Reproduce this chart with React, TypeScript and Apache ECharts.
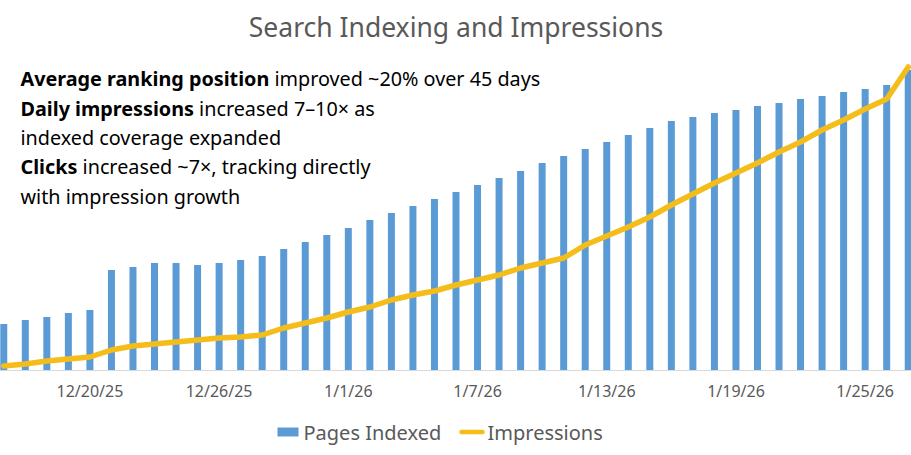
import { useEffect, useRef } from 'react';
import * as echarts from 'echarts';

const FONT = '"Noto Sans", "Open Sans", sans-serif';

// one category per day, 12/16/25 .. 1/27/26
const dates = [
  '12/16/25', '12/17/25', '12/18/25', '12/19/25', '12/20/25', '12/21/25', '12/22/25',
  '12/23/25', '12/24/25', '12/25/25', '12/26/25', '12/27/25', '12/28/25', '12/29/25',
  '12/30/25', '12/31/25', '1/1/26', '1/2/26', '1/3/26', '1/4/26', '1/5/26',
  '1/6/26', '1/7/26', '1/8/26', '1/9/26', '1/10/26', '1/11/26', '1/12/26',
  '1/13/26', '1/14/26', '1/15/26', '1/16/26', '1/17/26', '1/18/26', '1/19/26',
  '1/20/26', '1/21/26', '1/22/26', '1/23/26', '1/24/26', '1/25/26', '1/26/26',
  '1/27/26',
];

const pagesIndexed = [
  46, 50, 53, 57, 60, 100, 103, 107, 107, 105, 107, 110, 114, 121,
  128, 135, 142, 150, 157, 164, 171, 178, 185, 192, 199, 207, 214, 221,
  228, 235, 242, 249, 253, 257, 260, 264, 267, 271, 274, 278, 281, 285,
  300,
];

const impressions = [
  40, 60, 90, 110, 130, 200, 240, 260, 280, 300, 320, 330, 350, 420,
  470, 520, 580, 630, 700, 750, 790, 850, 900, 950, 1020, 1070, 1120, 1250,
  1340, 1430, 1530, 1650, 1760, 1870, 1970, 2070, 2180, 2280, 2400, 2500, 2610, 2710,
  3030,
];

const notes = [
  '{b|Average ranking position}{n| improved ~20% over 45 days}',
  '{b|Daily impressions}{n| increased 7–10× as}',
  '{n|indexed coverage expanded}',
  '{b|Clicks}{n| increased ~7×, tracking directly}',
  '{n|with impression growth}',
];

// the plot area is a little wider than the picture: half a day is cut off on each side
const SHIFT = 7.5;

export default function App() {
  const chartRef = useRef<HTMLDivElement>(null);

  useEffect(() => {
    if (!chartRef.current) return;
    document.body.style.margin = '0';
    const chart = echarts.init(chartRef.current, null, { renderer: 'svg' });

    const option: echarts.EChartsOption = {
      animation: false,
      title: {
        text: 'Search Indexing and Impressions',
        left: 'center',
        top: 8,
        textStyle: { fontFamily: FONT, fontSize: 26.5, fontWeight: 'normal', color: '#595959' },
      },
      legend: {
        bottom: 8,
        left: 272 + SHIFT,
        itemWidth: 21,
        itemHeight: 9,
        itemGap: 18,
        textStyle: { fontFamily: FONT, fontSize: 20, color: '#595959' },
        data: [
          { name: 'Pages Indexed', icon: 'rect' },
          {
            name: 'Impressions',
            itemStyle: { color: 'transparent', borderWidth: 0 },
            lineStyle: { width: 4.5, color: '#f5bd1a' },
          },
        ],
      },
      grid: { left: 0, right: 0, top: 50, bottom: 85 },
      xAxis: {
        type: 'category',
        data: dates,
        axisLine: { lineStyle: { color: '#d9d9d9', width: 1 } },
        axisTick: { interval: 0, length: 5, lineStyle: { color: '#d9d9d9' } },
        axisLabel: {
          interval: (index: number) => (index - 4) % 6 === 0,
          color: '#595959',
          fontFamily: FONT,
          fontSize: 16,
          margin: 13,
        },
      },
      yAxis: [
        { type: 'value', min: 0, max: 320, show: false, splitLine: { show: false } },
        { type: 'value', min: 0, max: 3200, show: false, splitLine: { show: false } },
      ],
      graphic: [
        {
          type: 'text',
          left: 20 + SHIFT,
          top: 69,
          style: {
            text: notes.join('\n'),
            rich: {
              b: { fontFamily: FONT, fontSize: 19.8, fontWeight: 'bold', color: '#000', lineHeight: 29.3 },
              n: { fontFamily: FONT, fontSize: 19.8, color: '#000', lineHeight: 29.3 },
            },
          },
        },
      ],
      series: [
        {
          name: 'Pages Indexed',
          type: 'bar',
          data: pagesIndexed,
          barWidth: 7,
          itemStyle: { color: '#5b9bd5' },
          z: 1,
        },
        {
          name: 'Impressions',
          type: 'line',
          yAxisIndex: 1,
          data: impressions,
          symbol: 'none',
          itemStyle: { color: '#f5bd1a' },
          lineStyle: { color: '#f5bd1a', width: 5.5, join: 'round', cap: 'round' },
          z: 3,
        },
      ],
    };

    chart.setOption(option);
    return () => chart.dispose();
  }, []);

  return (
    <div style={{ width: 911, height: 455, overflow: 'hidden' }}>
      <div ref={chartRef} style={{ width: 911 + 2 * SHIFT, height: 455, marginLeft: -SHIFT }} />
    </div>
  );
}
